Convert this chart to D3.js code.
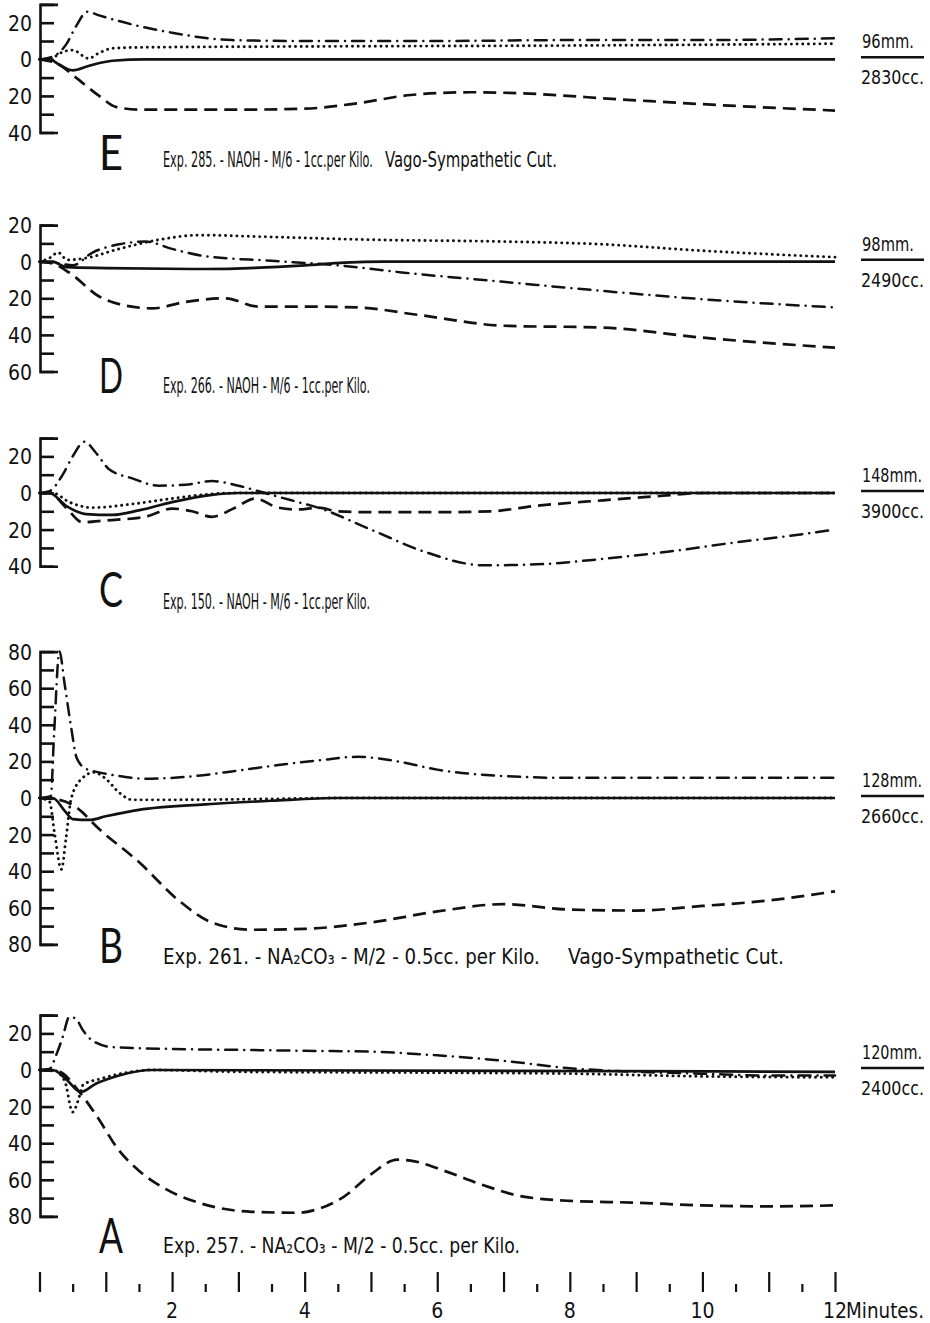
<!DOCTYPE html>
<html>
<head>
<meta charset="utf-8">
<script src="https://cdn.jsdelivr.net/npm/d3@7"></script>
<style>
  body { margin: 0; background: #fff; }
  text { font-family: "Liberation Sans Narrow", "DejaVu Sans Condensed", "Arial Narrow", "DejaVu Sans", sans-serif; fill: #111; }
  .letter { font-family: Lato, "Open Sans", sans-serif; font-weight: 400; }
</style>
</head>
<body>
<div id="chart"></div>
<script>
// panel names, captions and the mm / cc fraction on the right
const panelLetters = ["E", "D", "C", "B", "A"];
const captions = [
  "Exp. 285. - NAOH - M/6 - 1cc.per Kilo.",
  "Exp. 266. - NAOH - M/6 - 1cc.per Kilo.",
  "Exp. 150. - NAOH - M/6 - 1cc.per Kilo.",
  "Exp. 261. - NA\u2082CO\u2083 - M/2 - 0.5cc. per Kilo.",
  "Exp. 257. - NA\u2082CO\u2083 - M/2 - 0.5cc. per Kilo."
];
const sideNotes = ["Vago-Sympathetic Cut.", null, null, "Vago-Sympathetic Cut.", null];
const fracTop = ["96mm.", "98mm.", "148mm.", "128mm.", "120mm."];
const fracBottom = ["2830cc.", "2490cc.", "3900cc.", "2660cc.", "2400cc."];
const yDomains = [[30, -40], [20, -60], [30, -40], [80, -80], [30, -80]];

// time axis
const minuteLabels = [2, 4, 6, 8, 10, 12];

// series: [minutes, change]
const E_solid = [[0,0],[0.15,0],[0.3,-3],[0.5,-6],[0.75,-3.5],[1.1,-0.8],[1.6,0],[12,0]];
const E_dotted = [[0,0],[0.2,1],[0.35,4],[0.5,5],[0.74,0.5],[0.9,3.5],[1.1,6],[1.5,6.5],[4,7],[8,7.5],[12,8.5]];
const E_dashdot = [[0,0],[0.2,1.5],[0.4,8],[0.55,18],[0.72,26],[0.9,24],[1.4,19],[2,14.5],[2.9,10.5],[4,10],[6,10],[8,10.5],[10,10.5],[12,11.5]];
const E_dashed = [[0,0],[0.3,-3],[0.55,-10],[0.9,-20],[1.15,-26],[1.5,-27.5],[3,-27.5],[4,-27],[4.8,-24],[5.6,-19.5],[6.5,-18],[7.2,-18.5],[8.8,-22],[10.5,-25.5],[12,-28]];

const D_solid = [[0,0],[0.2,0],[0.4,-3],[1,-3.5],[2.5,-4],[4,-2],[4.6,-0.5],[5.2,0],[12,0]];
const D_dotted = [[0,0],[0.15,2],[0.28,5],[0.42,1],[0.7,2],[1.2,7],[1.8,12],[2.4,14.5],[3.5,13.5],[5,12],[7,11],[8.5,9.5],[10,6],[12,2.5]];
const D_dashdot = [[0,0],[0.3,-1],[0.5,-2],[0.8,5],[1.2,9.5],[1.6,11],[2,7],[2.5,3],[3.5,0.5],[4.5,-2],[5.5,-6],[7,-11],[8.5,-16],[10,-20.5],[12,-25]];
const D_dashed = [[0,0],[0.2,-1],[0.45,-6],[0.9,-19],[1.3,-24],[1.7,-25.5],[2.2,-22],[2.8,-20],[3.3,-24.5],[3.9,-24.5],[4.8,-25],[5.7,-29],[7,-35],[8.5,-36],[10,-41.5],[12,-47]];

const C_solid = [[0,0],[0.15,0],[0.4,-7],[0.7,-11.5],[1.1,-12],[1.5,-9.5],[2,-5],[2.6,-1],[3,0],[12,0]];
const C_dotted = [[0,0],[0.2,0],[0.45,-5],[0.8,-8],[1.4,-6],[2,-3],[2.6,-0.5],[3,0],[12,0]];
const C_dashdot = [[0,0],[0.15,1],[0.35,10],[0.5,20],[0.68,28],[0.85,22],[1.05,13],[1.4,8],[1.8,4],[2.2,4.5],[2.6,6.5],[3,4],[3.4,0],[3.8,-4],[4.2,-8],[5,-20],[5.8,-32],[6.7,-39.5],[7.5,-39],[8.5,-36],[9.5,-32],[10.5,-27],[11.3,-23.5],[12,-20]];
const C_dashed = [[0,0],[0.15,0],[0.4,-8],[0.65,-16],[1,-15],[1.6,-13],[2,-8.5],[2.3,-10],[2.6,-13],[2.95,-8],[3.25,-3],[3.6,-8],[3.9,-9],[4.2,-8],[4.5,-10],[5,-10.5],[6,-10.5],[6.8,-10],[7.5,-7],[8.5,-4],[9.4,-1.5],[10,0],[12,0]];

const B_solid = [[0,0],[0.2,0],[0.38,-7],[0.5,-11.5],[0.75,-12],[1,-10],[1.5,-6.5],[2.5,-3.5],[3.5,-1.5],[4.5,0],[12,0]];
const B_dotted = [[0,0],[0.15,-2],[0.23,-20],[0.33,-39],[0.4,-22],[0.48,0],[0.65,11],[0.82,14],[1,10.5],[1.2,3],[1.4,-1],[2,-1],[3.5,-0.5],[4.5,0],[12,0]];
const B_dashdot = [[0,0],[0.17,1],[0.22,35],[0.3,80],[0.38,62],[0.48,38],[0.56,22],[0.7,16],[0.9,14],[1.2,12],[1.6,10.5],[2.2,11.5],[3,15],[3.6,18],[4.2,20.5],[4.8,22.5],[5.4,20],[6,15.5],[7,12],[8,11],[10,11],[12,11]];
const B_dashed = [[0,0],[0.3,-1],[0.55,-5],[0.9,-17],[1.5,-35],[2.1,-56],[2.6,-68],[3.2,-72],[4,-71.5],[5,-68],[6,-62],[7,-58],[8,-61],[9,-61.5],[10,-59],[11,-56],[12,-51]];

const A_solid = [[0,0],[0.2,0],[0.4,-5],[0.62,-12],[0.85,-7.5],[1.2,-3],[1.7,0],[12,-1]];
const A_dotted = [[0,0],[0.2,0],[0.38,-6],[0.5,-23],[0.58,-17],[0.66,-8],[0.9,-5],[1.3,-1.5],[1.7,0],[3,-1],[6,-1.5],[8,-2],[10,-3.5],[12,-4]];
const A_dashdot = [[0,0],[0.15,0.5],[0.25,8],[0.35,18],[0.45,29],[0.55,28],[0.65,22],[0.8,16],[1.1,12.5],[2,11.5],[3,11],[4,10.5],[5,10],[6,8],[7,5],[8,1],[9,-1],[10,-2],[11,-3],[12,-3]];
const A_dashed = [[0,0],[0.3,-1],[0.58,-11],[0.86,-25],[1.2,-44],[1.5,-55],[1.9,-65],[2.4,-72.5],[3.2,-77.5],[3.9,-78],[4.2,-76],[4.6,-69],[5,-57],[5.4,-49],[5.6,-49.5],[6.1,-55],[6.7,-63],[7.2,-68.5],[8,-71.5],[9,-72.5],[10,-74],[11,-74.5],[12,-74]];

const series = [
  { solid: E_solid, dotted: E_dotted, dashdot: E_dashdot, dashed: E_dashed },
  { solid: D_solid, dotted: D_dotted, dashdot: D_dashdot, dashed: D_dashed },
  { solid: C_solid, dotted: C_dotted, dashdot: C_dashdot, dashed: C_dashed },
  { solid: B_solid, dotted: B_dotted, dashdot: B_dashdot, dashed: B_dashed },
  { solid: A_solid, dotted: A_dotted, dashdot: A_dashdot, dashed: A_dashed }
];

// layout
const svgWidth = 930, svgHeight = 1323;
const unit = 1.83;                              // px per unit of change
const zeroY = [59.3, 261.7, 493, 798, 1070];    // where each panel's 0 sits
const axisX = 40;
const letterY = [170, 393, 607, 963, 1253];
const captionY = [167, 393, 609, 964, 1253];
const captionW = [210, 207, 207, 377, 357];
const sideX = [385, 0, 0, 568, 0];
const sideW = [172, 0, 0, 216, 0];

const lineStyle = {
  solid:   { dash: null,            cap: "butt",  w: 2.7 },
  dashed:  { dash: "13,7",          cap: "butt",  w: 2.7 },
  dotted:  { dash: "0.1,5.6",       cap: "round", w: 2.9 },
  dashdot: { dash: "12,7,0.1,7",    cap: "round", w: 2.5 }
};

const svg = d3.select("#chart").append("svg")
  .attr("width", svgWidth)
  .attr("height", svgHeight);

const x = d3.scaleLinear().domain([0, 12]).range([39.5, 835]);

// squeeze a text into a given width (hand lettering is tall and narrow)
function fitText(parent, str, px, py, width, size, cls) {
  const t = parent.append("text")
    .attr("class", cls || null)
    .style("font-size", size + "px")
    .text(str);
  const w = t.node().getComputedTextLength();
  t.attr("transform", `translate(${px},${py}) scale(${width / w},1)`);
  return t;
}

panelLetters.forEach((letter, i) => {
  const dom = yDomains[i];
  const y = d3.scaleLinear()
    .domain(dom)
    .range([zeroY[i] - dom[0] * unit, zeroY[i] - dom[1] * unit]);

  const g = svg.append("g");

  // y axis: ticks point right, labels on the left
  const yAxis = d3.axisLeft(y)
    .tickValues(d3.range(dom[0], dom[1] - 1, -10))
    .tickSize(-14)
    .tickSizeOuter(-18)
    .tickPadding(8)
    .tickFormat(v => Math.abs(v) % 20 === 0 ? Math.abs(v) : "");

  const ax = g.append("g")
    .attr("transform", `translate(${axisX},0)`)
    .call(yAxis)
    .attr("font-family", null)
    .attr("font-size", null);
  ax.selectAll("path, line").attr("stroke", "#111").attr("stroke-width", 2.6);
  ax.selectAll("text").style("font-size", "21px").attr("dy", "0.36em");

  // curves
  const line = d3.line()
    .x(d => x(d[0]))
    .y(d => y(d[1]))
    .curve(d3.curveMonotoneX);

  ["dashed", "dashdot", "dotted", "solid"].forEach(k => {
    const st = lineStyle[k];
    g.append("path")
      .datum(series[i][k])
      .attr("d", line)
      .attr("fill", "none")
      .attr("stroke", "#111")
      .attr("stroke-width", st.w)
      .attr("stroke-linecap", st.cap)
      .attr("stroke-linejoin", "round")
      .attr("stroke-dasharray", st.dash);
  });

  // letter and caption
  fitText(g, letter, 99, letterY[i], 24, 48, "letter");
  fitText(g, captions[i], 163, captionY[i], captionW[i], 21);
  if (sideNotes[i]) fitText(g, sideNotes[i], sideX[i], captionY[i], sideW[i], 21);

  // mm / cc fraction at the right
  const fy = zeroY[i] - 2;
  g.append("line")
    .attr("x1", 861).attr("x2", 924)
    .attr("y1", fy).attr("y2", fy)
    .attr("stroke", "#111").attr("stroke-width", 2.4);
  fitText(g, fracTop[i], 862, fy - 9, fracTop[i].length > 5 ? 60 : 52, 20);
  fitText(g, fracBottom[i], 861, fy + 27, 63, 20);
});

// time axis at the bottom: long ticks each minute, short ones at half minutes
const tickBase = 1292;
const longAxis = d3.axisTop(x).tickValues(d3.range(0, 13, 1)).tickSize(20).tickFormat("");
const shortAxis = d3.axisTop(x).tickValues(d3.range(0.5, 12, 1)).tickSize(8).tickFormat("");

[longAxis, shortAxis].forEach(a => {
  const tg = svg.append("g")
    .attr("transform", `translate(0,${tickBase})`)
    .call(a);
  tg.select(".domain").remove();
  tg.selectAll("line").attr("stroke", "#111").attr("stroke-width", 2.2);
});

svg.append("g")
  .selectAll("text")
  .data(minuteLabels)
  .join("text")
  .attr("x", d => x(d))
  .attr("y", 1318)
  .attr("text-anchor", "middle")
  .style("font-size", "21px")
  .text(d => d);

fitText(svg, "Minutes.", x(12) + 11, 1318, 78, 21);
</script>
</body>
</html>
